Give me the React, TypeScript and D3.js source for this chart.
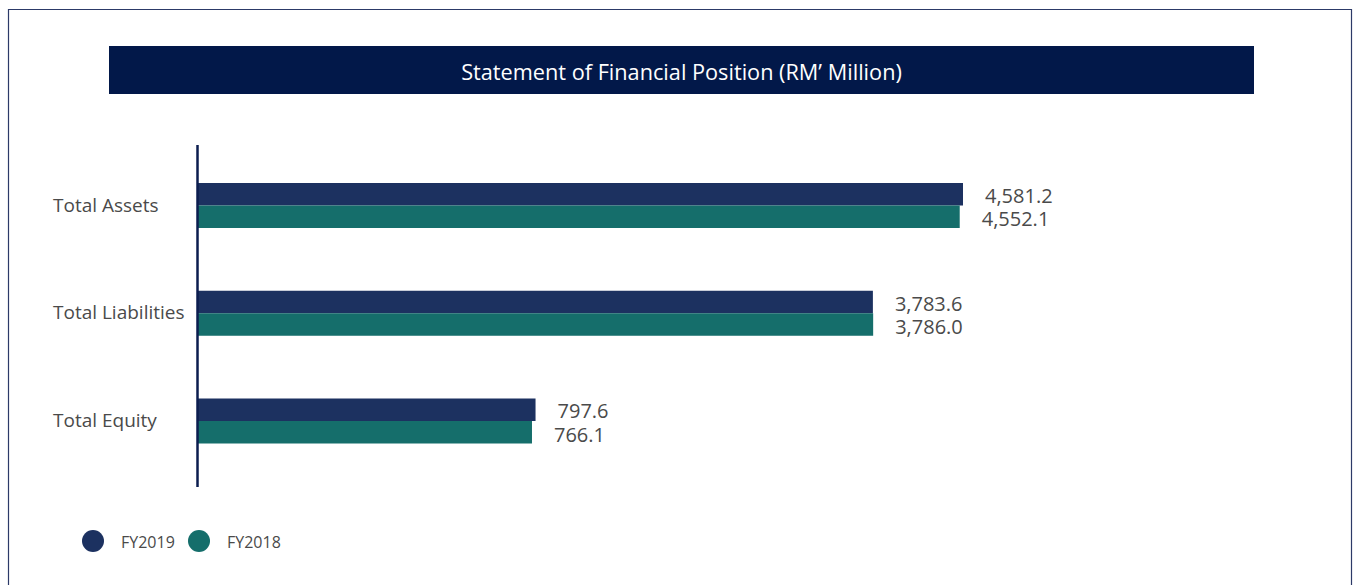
import React from "react";
import * as d3 from "d3";

const categories = ["Total Assets", "Total Liabilities", "Total Equity"];
const seriesNames = ["FY2019", "FY2018"];
const fy2019 = [4581.2, 3783.6, 797.6];
const fy2018 = [4552.1, 3786.0, 766.1];
const seriesColors = ["#1c3160", "#156e6b"];
const title = "Statement of Financial Position (RM\u2019 Million)";

const W = 1358;
const H = 585;
const FONT = "'Open Sans', 'Noto Sans', sans-serif";
const TEXT = "#4a4a4a";

export default function App() {
  const seriesValues = [fy2019, fy2018];
  const x0 = 198;
  // linear scale (offset baseline fitted to the reference layout)
  const x = d3.scaleLinear().domain([-2190, 4581.2]).range([x0, 963]);
  const y = d3.scalePoint<string>().domain(categories).range([205.5, 421]);
  const sub = d3.scaleBand<string>().domain(seriesNames).range([-22.5, 22.5]);
  const fmt = d3.format(",.1f");

  return (
    <svg
      width={W}
      height={H}
      style={{ position: "absolute", left: 0, top: 0, background: "#fff" }}
      fontFamily={FONT}
    >
      {/* frame */}
      <path d={`M8.5,${H + 2} V9.5 H1351.5 V${H + 2}`} fill="none" stroke="#2c3a68" strokeWidth={1.2} />
      {/* title bar */}
      <rect x={109} y={46} width={1145} height={48} fill="#021849" />
      <text x={681.5} y={71} fill="#fff" fontSize={21.7} textAnchor="middle" dominantBaseline="central">
        {title}
      </text>

      {/* bars */}
      {categories.map((c, i) => (
        <g key={c}>
          <text x={53} y={(y(c) as number) - 1} fill={TEXT} fontSize={19} dominantBaseline="central">
            {c}
          </text>
          {seriesNames.map((s, k) => {
            const v = seriesValues[k][i];
            const yy = (y(c) as number) + (sub(s) as number);
            const bw = sub.bandwidth();
            return (
              <g key={s}>
                <rect x={x0} y={yy} width={x(v) - x0} height={bw} fill={seriesColors[k]} />
                <text
                  x={x(v) + 22}
                  y={yy + bw / 2 + (k === 0 ? 1 : 2)}
                  fill={TEXT}
                  fontSize={20}
                  dominantBaseline="central"
                >
                  {fmt(v)}
                </text>
              </g>
            );
          })}
        </g>
      ))}

      {/* axis line */}
      <line x1={197.5} x2={197.5} y1={145} y2={487} stroke="#0b1d4f" strokeWidth={2.5} />

      {/* legend */}
      {seriesNames.map((s, k) => (
        <g key={s} transform={`translate(${93 + k * 106},541)`}>
          <circle r={11} fill={seriesColors[k]} />
          <text x={28} y={1} fill={TEXT} fontSize={16} dominantBaseline="central">
            {s}
          </text>
        </g>
      ))}
    </svg>
  );
}
